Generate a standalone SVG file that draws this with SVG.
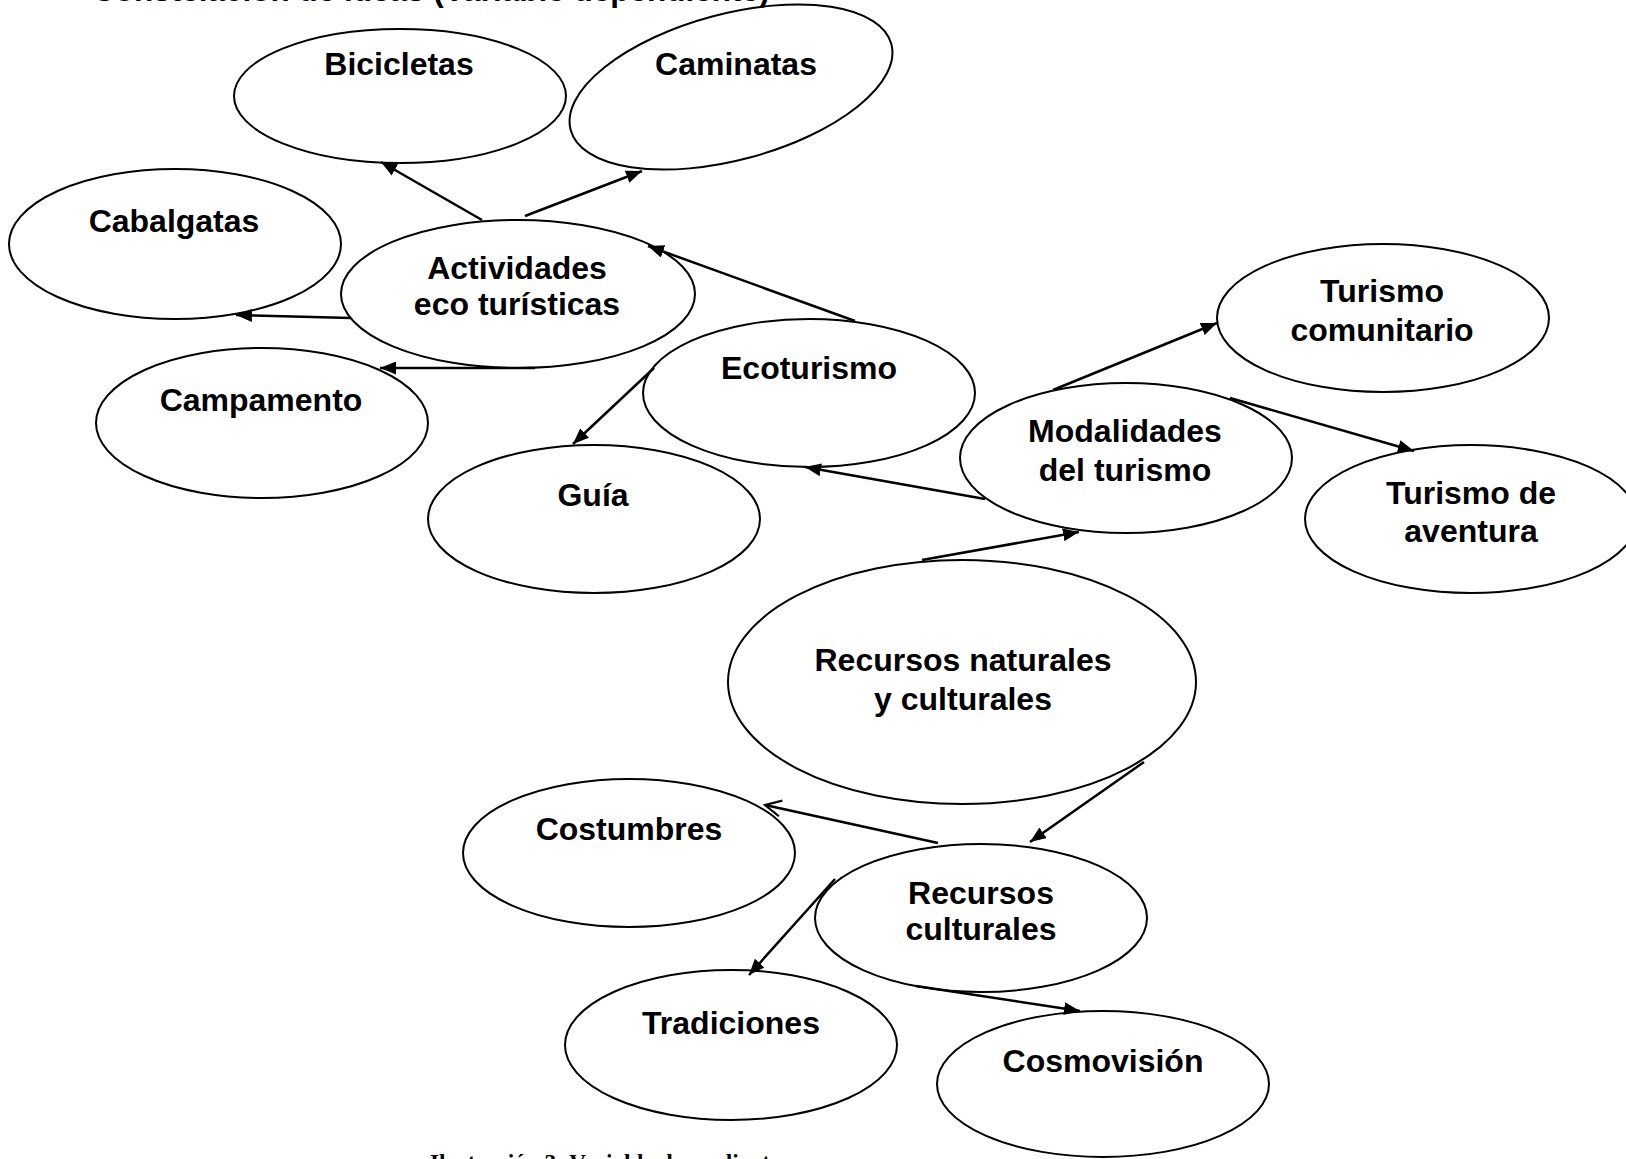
<svg xmlns="http://www.w3.org/2000/svg" width="1626" height="1159" viewBox="0 0 1626 1159">
<style>
.n ellipse{fill:none;stroke:#000;stroke-width:2}
.n text{font-family:"Liberation Sans",Arial,sans-serif;font-weight:bold;font-size:32px;text-anchor:middle;fill:#000}
.c line{stroke:#000;stroke-width:2.5}
.title{font-family:"Liberation Sans",Arial,sans-serif;font-weight:bold;font-size:31.5px;fill:#000}
.cap{font-family:"Liberation Serif","Times New Roman",serif;font-weight:bold;font-size:23.3px;fill:#000}
</style>
<defs>
<marker id="arr" viewBox="0 0 16 13" refX="16" refY="6.5" markerWidth="16" markerHeight="13" markerUnits="userSpaceOnUse" orient="auto">
<path d="M0,0 L16,6.5 L0,13 z" fill="#000"/>
</marker>
<marker id="open" viewBox="-2 -2 20 20" refX="16" refY="8" markerWidth="20" markerHeight="20" markerUnits="userSpaceOnUse" orient="auto">
<path d="M0,0 L16,8 L0,16" fill="none" stroke="#000" stroke-width="2.2"/>
</marker>
</defs>
<rect width="1626" height="1159" fill="#fff"/>
<text class="title" x="92" y="1">Constelación de ideas (Variable dependiente)</text>

<g class="c">
<line x1="482" y1="220" x2="381" y2="162" marker-end="url(#arr)"/>
<line x1="525" y1="216" x2="642" y2="171" marker-end="url(#arr)"/>
<line x1="351" y1="318" x2="236" y2="315" marker-end="url(#arr)"/>
<line x1="535" y1="368" x2="380" y2="368" marker-end="url(#arr)"/>
<line x1="855" y1="321" x2="648" y2="246" marker-end="url(#arr)"/>
<line x1="654" y1="368" x2="573" y2="444" marker-end="url(#arr)"/>
<line x1="985" y1="499" x2="805" y2="467" marker-end="url(#arr)"/>
<line x1="1053" y1="390" x2="1217" y2="323" marker-end="url(#arr)"/>
<line x1="1230" y1="398" x2="1414" y2="451" marker-end="url(#arr)"/>
<line x1="922" y1="560" x2="1079" y2="532" marker-end="url(#arr)"/>
<line x1="1144" y1="762" x2="1030" y2="842" marker-end="url(#arr)"/>
<line x1="938" y1="843" x2="765" y2="805" marker-end="url(#open)"/>
<line x1="835" y1="879" x2="749" y2="975" marker-end="url(#arr)"/>
<line x1="916" y1="986" x2="1080" y2="1011" marker-end="url(#arr)"/>
</g>

<g id="bicicletas" class="n"><ellipse cx="400" cy="96" rx="166" ry="67"/><text x="399" y="75">Bicicletas</text></g>
<g id="caminatas" class="n"><ellipse cx="731" cy="87" rx="166" ry="73" transform="rotate(-15 731 87)"/><text x="736" y="75">Caminatas</text></g>
<g id="cabalgatas" class="n"><ellipse cx="175" cy="244" rx="166" ry="75"/><text x="174" y="232">Cabalgatas</text></g>
<g id="actividades" class="n"><ellipse cx="518" cy="294" rx="177" ry="74"/><text x="517" y="279">Actividades</text><text x="517" y="315">eco turísticas</text></g>
<g id="campamento" class="n"><ellipse cx="262" cy="423" rx="166" ry="75"/><text x="261" y="411">Campamento</text></g>
<g id="ecoturismo" class="n"><ellipse cx="809" cy="393" rx="166" ry="74"/><text x="809" y="379">Ecoturismo</text></g>
<g id="guia" class="n"><ellipse cx="594" cy="519" rx="166" ry="74"/><text x="593" y="506">Guía</text></g>
<g id="turismo-comunitario" class="n"><ellipse cx="1383" cy="318" rx="166" ry="74"/><text x="1382" y="302">Turismo</text><text x="1382" y="341">comunitario</text></g>
<g id="modalidades" class="n"><ellipse cx="1126" cy="458" rx="166" ry="75"/><text x="1125" y="442">Modalidades</text><text x="1125" y="481">del turismo</text></g>
<g id="turismo-aventura" class="n"><ellipse cx="1471" cy="519" rx="166" ry="74"/><text x="1471" y="504">Turismo de</text><text x="1471" y="542">aventura</text></g>
<g id="recursos-naturales" class="n"><ellipse cx="962" cy="682" rx="234" ry="122"/><text x="963" y="671">Recursos naturales</text><text x="963" y="710">y culturales</text></g>
<g id="costumbres" class="n"><ellipse cx="629" cy="853" rx="166" ry="74"/><text x="629" y="840">Costumbres</text></g>
<g id="recursos-culturales" class="n"><ellipse cx="981" cy="918" rx="166" ry="74"/><text x="981" y="904">Recursos</text><text x="981" y="940">culturales</text></g>
<g id="tradiciones" class="n"><ellipse cx="731" cy="1045" rx="166" ry="75"/><text x="731" y="1034">Tradiciones</text></g>
<g id="cosmovision" class="n"><ellipse cx="1103" cy="1084" rx="166" ry="73"/><text x="1103" y="1072">Cosmovisión</text></g>

<text class="cap" x="430" y="1170">Ilustración 3: Variable dependiente</text>
</svg>
